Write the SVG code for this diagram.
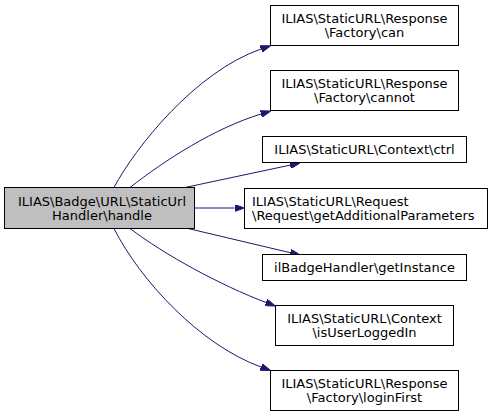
<svg xmlns="http://www.w3.org/2000/svg" width="492" height="417" viewBox="0 0 492 417">
<defs>
<style>
.n rect{fill:#ffffff;stroke:#000000;stroke-width:1}
.n.main rect{fill:#bfbfbf}
.n text{font-family:"DejaVu Sans",sans-serif;font-size:13px;fill:#000000;text-anchor:middle}
.n text.l{text-anchor:start}
.e path{fill:none;stroke:#191970;stroke-width:1;marker-end:url(#ah)}
</style>
<marker id="ah" viewBox="0 0 10 7" refX="0" refY="3.5" markerWidth="10" markerHeight="7" markerUnits="userSpaceOnUse" orient="auto">
<path d="M0,0 L10,3.5 L0,7 z" fill="#191970" stroke="#191970" stroke-width="1"/>
</marker>
</defs>
<rect width="492" height="417" fill="#ffffff"/>
<g id="edges" class="e">
<path d="M114,187.5 C135,148 195,72 261,49"/>
<path d="M130,187.5 C165,160 215,128 261,114"/>
<path d="M185,187.5 L290.2,165.1"/>
<path d="M194.5,208 L234.5,208"/>
<path d="M188,228.5 L290.3,252.7"/>
<path d="M130,228.5 C165,255 220,285 266,302.5"/>
<path d="M114,228.5 C140,280 200,345 261,367"/>
</g>
<g id="node_main" class="n main">
<rect x="4.5" y="187.5" width="190" height="41"/>
<text x="102" y="205.5">ILIAS\Badge\URL\StaticUrl</text>
<text x="102" y="219.5">Handler\handle</text>
</g>
<g id="node_can" class="n">
<rect x="270.5" y="5.5" width="188" height="40"/>
<text x="364.5" y="22.5">ILIAS\StaticURL\Response</text>
<text x="364.5" y="36.5">\Factory\can</text>
</g>
<g id="node_cannot" class="n">
<rect x="270.5" y="70.5" width="188" height="40"/>
<text x="364.5" y="87.5">ILIAS\StaticURL\Response</text>
<text x="364.5" y="101.5">\Factory\cannot</text>
</g>
<g id="node_ctrl" class="n">
<rect x="262.5" y="136.5" width="204" height="26"/>
<text x="364.5" y="154">ILIAS\StaticURL\Context\ctrl</text>
</g>
<g id="node_request" class="n">
<rect x="244.5" y="188.5" width="243" height="40"/>
<text class="l" x="252" y="206">ILIAS\StaticURL\Request</text>
<text class="l" x="252" y="220">\Request\getAdditionalParameters</text>
</g>
<g id="node_getinstance" class="n">
<rect x="262.5" y="254.5" width="204" height="26"/>
<text x="364.5" y="272">ilBadgeHandler\getInstance</text>
</g>
<g id="node_loggedin" class="n">
<rect x="275.5" y="305.5" width="178" height="40"/>
<text x="364.5" y="322.5">ILIAS\StaticURL\Context</text>
<text x="364.5" y="336.5">\isUserLoggedIn</text>
</g>
<g id="node_loginfirst" class="n">
<rect x="270.5" y="370.5" width="188" height="40"/>
<text x="364.5" y="387.5">ILIAS\StaticURL\Response</text>
<text x="364.5" y="401.5">\Factory\loginFirst</text>
</g>
</svg>
